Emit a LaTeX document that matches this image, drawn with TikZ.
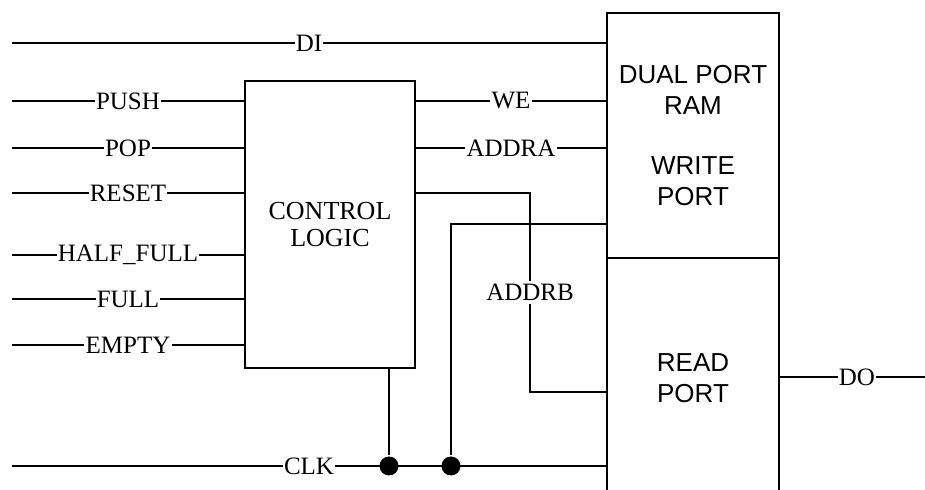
\documentclass[tikz,border=0pt]{standalone}
\usepackage{fontspec}
\setmainfont{Liberation Serif}
\newfontfamily\ramfont{Liberation Sans}
\usepackage{tikz}

\begin{document}
\begin{tikzpicture}[
    x=0.5pt, y=-0.5pt, line width=1pt,
    blk/.style={draw, inner sep=0pt, align=center},
    lbl/.style={fill=white, inner xsep=0.6pt, inner ysep=1.5pt,
      font=\fontsize{12.5}{15}\selectfont},
    junc/.style={circle, fill=black, inner sep=0pt, minimum size=9.5pt}
  ]
  \clip (0,0) rectangle (925,490);

  \node[blk, minimum width=85pt, minimum height=143.5pt,
    font=\fontsize{13}{13.5}\selectfont] (ctrl) at (330,224.5) {CONTROL\\LOGIC};
  \node[blk, minimum width=86pt, minimum height=122.5pt,
    font={\ramfont\fontsize{13}{15.5}\selectfont}] (wrport) at (693,135.5)
    {DUAL PORT\\RAM\\[14.5pt]WRITE\\PORT};
  \node[blk, minimum width=86pt, minimum height=120pt,
    font={\ramfont\fontsize{13}{15.5}\selectfont}] (rdport) at (693,378)
    {READ\\PORT};

  \coordinate (di-in) at (12,43);
  \coordinate (push-in) at (12,101);
  \coordinate (pop-in) at (12,148);
  \coordinate (rst-in) at (12,193);
  \coordinate (hf-in) at (12,255);
  \coordinate (full-in) at (12,299);
  \coordinate (empty-in) at (12,345);
  \coordinate (clk-in) at (12,466);
  \coordinate (do-out) at (925,377);
  \coordinate (addrb-a) at (530,193);
  \coordinate (addrb-b) at (530,392);
  \coordinate (wclk) at (451,224);

  \draw (di-in) -- node[lbl] {DI} (di-in -| wrport.west);
  \draw (push-in) -- node[lbl] {PUSH} (push-in -| ctrl.west);
  \draw (pop-in) -- node[lbl] {POP} (pop-in -| ctrl.west);
  \draw (rst-in) -- node[lbl] {RESET} (rst-in -| ctrl.west);
  \draw (hf-in) -- node[lbl] {HALF\_FULL} (hf-in -| ctrl.west);
  \draw (full-in) -- node[lbl] {FULL} (full-in -| ctrl.west);
  \draw (empty-in) -- node[lbl] {EMPTY} (empty-in -| ctrl.west);

  \draw (ctrl.east |- push-in) -- node[lbl] {WE} (push-in -| wrport.west);
  \draw (ctrl.east |- pop-in) -- node[lbl] {ADDRA} (pop-in -| wrport.west);
  \draw (ctrl.east |- addrb-a) -- (addrb-a) -- node[lbl] {ADDRB} (addrb-b)
    -- (addrb-b -| rdport.west);

  \draw (clk-in) -- node[lbl] {CLK} (clk-in -| rdport.west);
  \node[junc] (j1) at (389,466) {};
  \node[junc] (j2) at (451,466) {};
  \draw (ctrl.south -| j1) -- (j1);
  \draw (wclk -| wrport.west) -- (wclk) -- (j2);

  \draw (do-out -| rdport.east) -- node[lbl, pos=0.53] {DO} (do-out);
\end{tikzpicture}
\end{document}
